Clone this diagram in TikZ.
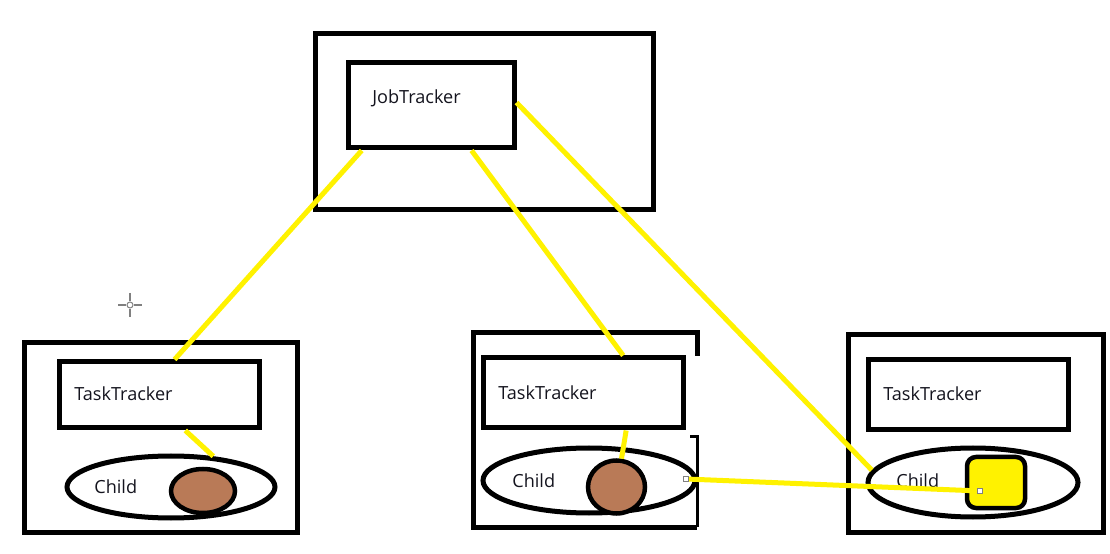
\documentclass[tikz,border=0pt]{standalone}
\usepackage{fontspec}
\setmainfont{Open Sans}
\usetikzlibrary{positioning,shapes.geometric}

\definecolor{paintyellow}{HTML}{FFF200}
\definecolor{paintbrown}{HTML}{B97A57}
\definecolor{inktext}{HTML}{14141E}

\begin{document}
\begin{tikzpicture}[x=0.2mm, y=-0.2mm,
    box/.style={draw, line width=1mm, fill=white, inner sep=0pt},
    childring/.style={draw, ellipse, line width=1mm, fill=white, inner sep=0pt},
    worker/.style={draw, ellipse, line width=0.9mm, fill=paintbrown, inner sep=0pt},
    label/.style={anchor=west, text=inktext, font=\fontsize{10.3}{12}\selectfont, inner sep=0pt},
    link/.style={draw=paintyellow, line width=1mm},
    handle/.style={draw=gray, fill=white, line width=0.2mm, minimum size=1.1mm, inner sep=0pt}]
    \useasboundingbox (0,0) rectangle (1110,554);

    % master machine
    \node (jobM) [box, minimum width=67.6mm, minimum height=35.2mm] at (484,122) {};
    \node (jt) [box, minimum width=33.2mm, minimum height=17mm] at (431,105.5) {};
    \node (jtText) [label] at (372,98) {JobTracker};

    % left slave
    \node (machineA) [box, minimum width=54.4mm, minimum height=37.8mm] at (161,437.5) {};
    \node (ttA) [box, minimum width=39.8mm, minimum height=13.2mm] at (159.5,395) {};
    \node (ttAText) [label] at (74,394) {TaskTracker};
    \node (ellA) [childring, minimum width=41.6mm, minimum height=12.4mm] at (171,487) {};
    \node (childAText) [label] at (94,487) {Child};
    \node (brownA) [worker, minimum width=12.8mm, minimum height=8.8mm] at (203,491) {};

    % middle slave (box is not closed on the right)
    \draw[line width=1mm] (697,356) -- (697,333) -- (473,333) -- (473,527) -- (697,527);
    \draw[line width=0.6mm] (690,437) -- (697,437) -- (697,527);
    \node (ttB) [box, minimum width=40mm, minimum height=14mm] at (583,393) {};
    \node (ttBText) [label] at (498,393) {TaskTracker};
    \node (ellB) [childring, minimum width=42.4mm, minimum height=13mm] at (589,480.5) {};
    \node (childBText) [label] at (512,481) {Child};
    \node (brownB) [worker, minimum width=11.4mm, minimum height=10.6mm] at (616.5,487) {};

    % right slave
    \node (machineC) [box, minimum width=51mm, minimum height=39.4mm] at (975.5,433.5) {};
    \node (ttC) [box, minimum width=40mm, minimum height=14mm] at (968,395) {};
    \node (ttCText) [label] at (883,394) {TaskTracker};
    \node (ellC) [childring, minimum width=42mm, minimum height=13.8mm] at (973,482.5) {};
    \node (childCText) [label] at (896,481) {Child};
    \node (taskC) [draw, line width=0.9mm, fill=paintyellow, rounded corners=1.8mm,
        minimum width=11.6mm, minimum height=10.2mm] at (996,482.5) {};

    % links
    \draw[link] (jt.213.6) -- (ttA.67.1);
    \draw[link] (jt.312.4) -- (ttB.43.4);
    \draw[link] (jt.2.4) -- (ellC.173.8);
    \draw[link] (ttA.-54.5) -- (ellA.36.6);
    \draw[link] (ttB.-41.9) -- (brownB.80.7);
    \coordinate (handleB) at (686,479);
    \coordinate (handleC) at (980,491);
    \draw[link] (handleB) -- (handleC);
    \node[handle] at (handleB) {};
    \node[handle] at (handleC) {};

    % mouse pointer
    \draw[gray, line width=0.3mm] (118,305) -- (126,305) (134,305) -- (142,305)
        (130,293) -- (130,301) (130,309) -- (130,317);
    \draw[gray, line width=0.2mm] (130,305) circle[radius=3];
\end{tikzpicture}
\end{document}
